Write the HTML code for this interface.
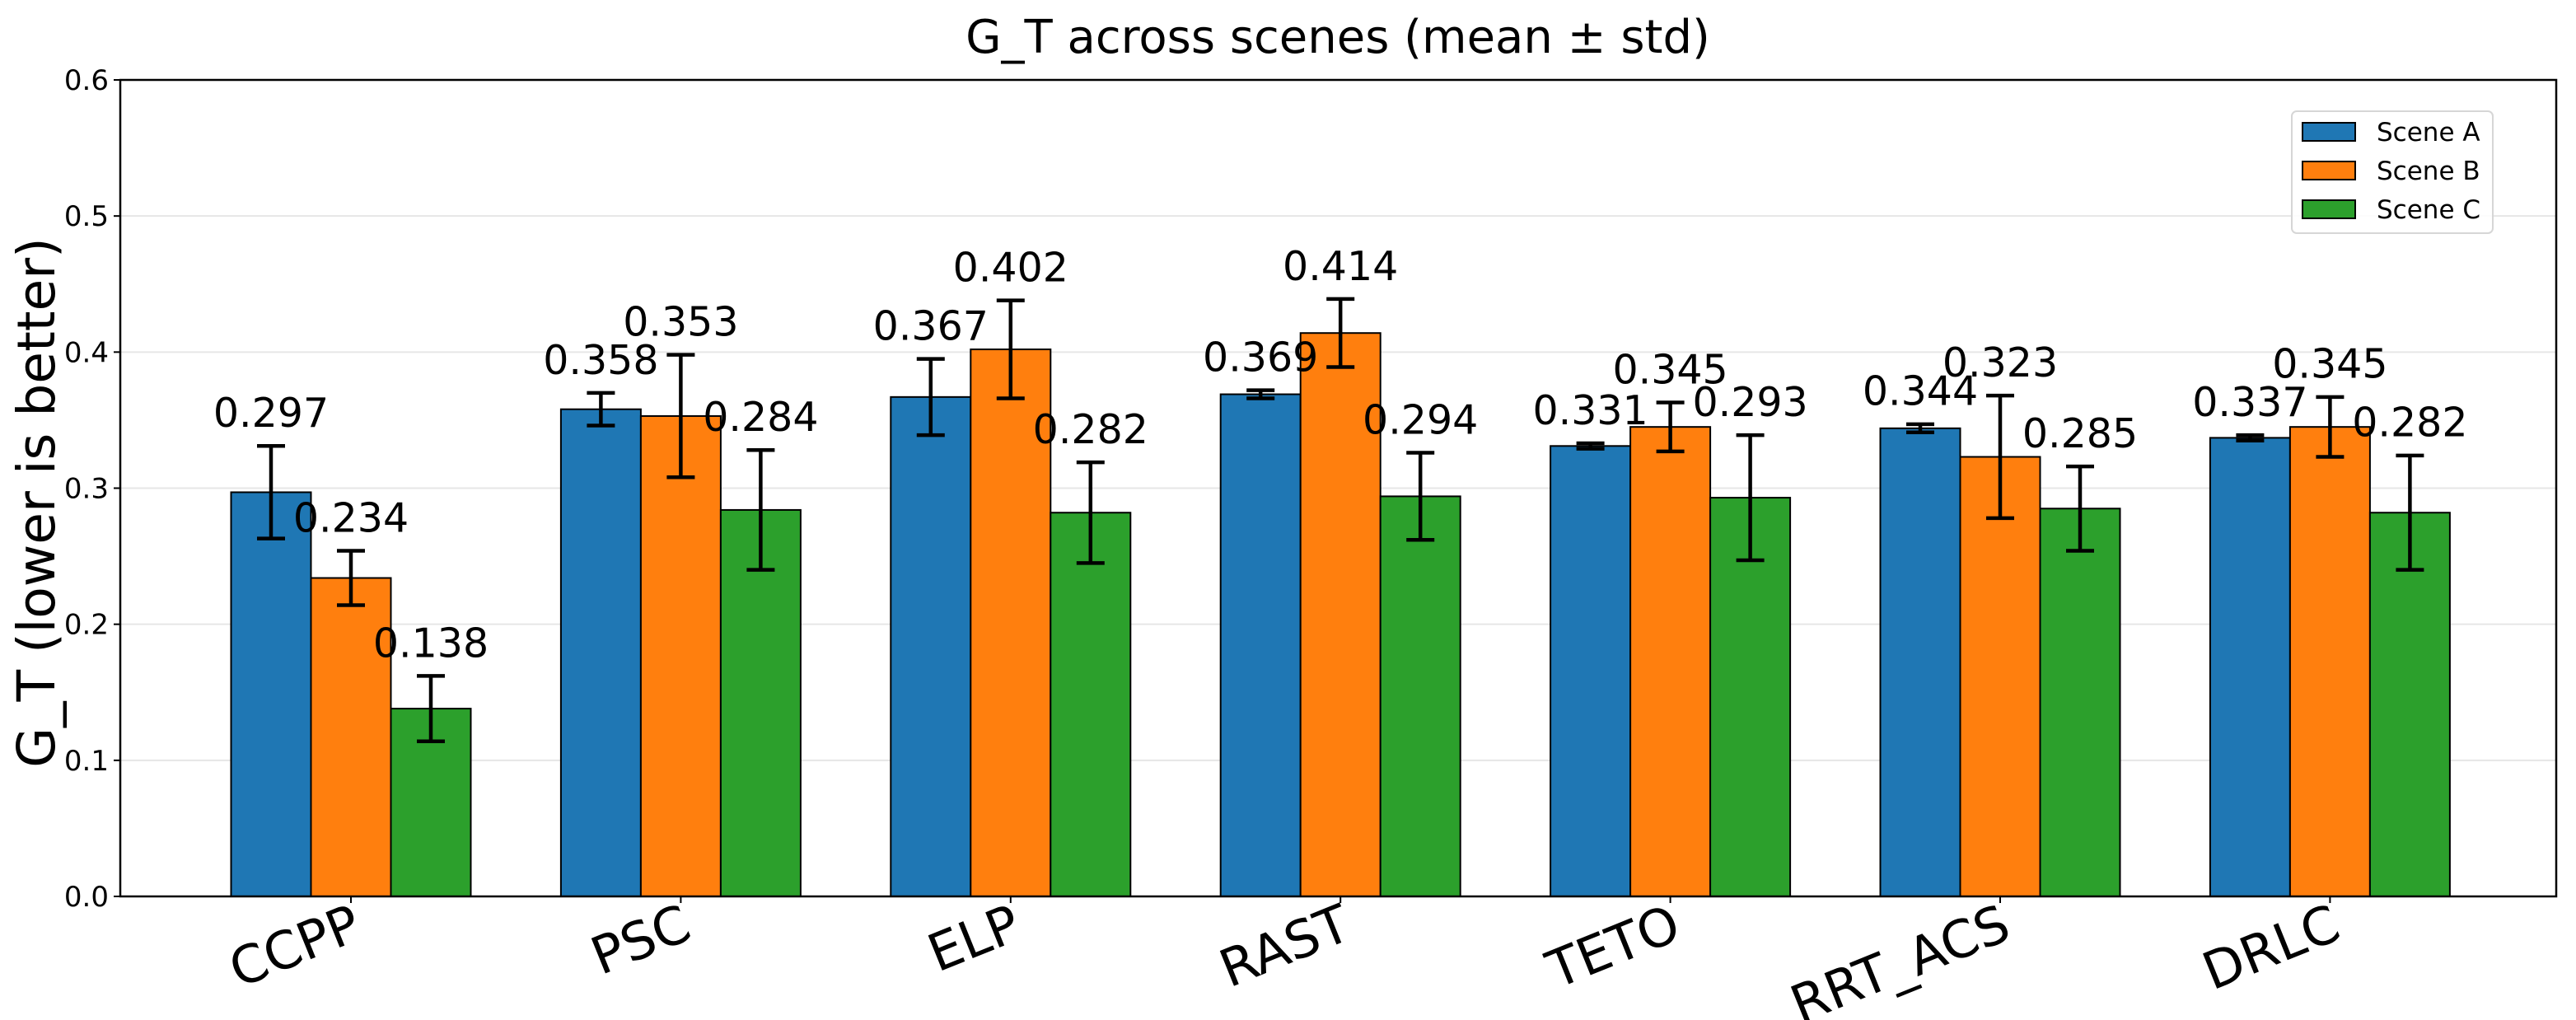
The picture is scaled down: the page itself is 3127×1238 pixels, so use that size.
<!DOCTYPE html>
<html><head><meta charset="utf-8"><style>
html,body{margin:0;padding:0;background:#fff;}
svg{display:block;font-family:"DejaVu Sans","Liberation Sans",sans-serif;}
</style></head><body>
<svg id="chart" width="3127" height="1238" viewBox="0 0 3127 1238">
<rect width="3127" height="1238" fill="#fff"/>
<text x="1624" y="64" font-size="56" text-anchor="middle">G_T across scenes (mean ± std)</text>
<text transform="translate(66,610) rotate(-90)" font-size="63" text-anchor="middle">G_T (lower is better)</text>
<g id="grid"></g><g id="bars"></g><g id="errs"></g><g id="vals"></g><g id="axes"></g>
<g id="legend">
<rect x="2782" y="135" width="244" height="148" rx="6" fill="#fff" fill-opacity="0.85" stroke="#d6d6d6" stroke-width="2"/>
</g>
</svg>
<script>
const categories=["CCPP","PSC","ELP","RAST","TETO","RRT_ACS","DRLC"];
const seriesNames=["Scene A","Scene B","Scene C"];
const sceneA=[0.297,0.358,0.367,0.369,0.331,0.344,0.337];
const sceneB=[0.234,0.353,0.402,0.414,0.345,0.323,0.345];
const sceneC=[0.138,0.284,0.282,0.294,0.293,0.285,0.282];
const stdA=[0.034,0.012,0.028,0.003,0.002,0.003,0.002];
const stdB=[0.020,0.045,0.036,0.025,0.018,0.045,0.022];
const stdC=[0.024,0.044,0.037,0.032,0.046,0.031,0.042];
const yTicks=[0.0,0.1,0.2,0.3,0.4,0.5,0.6];
const yTickLabels=["0.0","0.1","0.2","0.3","0.4","0.5","0.6"];

const colors=["#1f77b4","#ff7f0e","#2ca02c"];
const L=146,R=3103,T=97,B=1088,yMax=0.6;
const xFirst=426,xStep=400.4,barW=97;
const y=v=>B-(v/yMax)*(B-T);
const xc=i=>xFirst+i*xStep;
const NS="http://www.w3.org/2000/svg";
function mk(tag,attrs,parent){const e=document.createElementNS(NS,tag);for(const k in attrs)e.setAttribute(k,attrs[k]);parent.appendChild(e);return e;}
const G=id=>document.getElementById(id);
const vals=[sceneA,sceneB,sceneC],stds=[stdA,stdB,stdC];

yTicks.forEach((t,i)=>{
  if(i>0&&i<yTicks.length-1){const g=mk('line',{x1:L,x2:R,y1:y(t),y2:y(t),stroke:'#e6e6e6','stroke-width':2},G('grid'));
  
  }
  const tk=mk('line',{x1:L-8,x2:L,y1:y(t),y2:y(t),stroke:'#000','stroke-width':2},G('axes'));
  
  
  const tl=mk('text',{x:L-14,y:y(t)+12,'font-size':34,'text-anchor':'end'},G('axes'));
  tl.textContent=yTickLabels[i];
  
  
});

categories.forEach((c,i)=>{
  for(let s=0;s<3;s++){
    const v=vals[s][i],sd=stds[s][i];
    const cx=xc(i)+(s-1)*barW;
    const r=mk('rect',{x:cx-barW/2,y:y(v),width:barW,height:B-y(v),fill:colors[s],stroke:'#000','stroke-width':2},G('bars'));
    
    
    const eg=mk('g',{stroke:'#000','stroke-width':4.5},G('errs'));
    
    
    mk('line',{x1:cx,x2:cx,y1:y(v+sd),y2:y(v-sd)},eg);
    mk('line',{x1:cx-17,x2:cx+17,y1:y(v+sd),y2:y(v+sd)},eg);
    mk('line',{x1:cx-17,x2:cx+17,y1:y(v-sd),y2:y(v-sd)},eg);
    const t=mk('text',{x:cx,y:y(v+sd+0.014),'font-size':49,'text-anchor':'middle'},G('vals'));
    t.textContent=v.toFixed(3);
    
    
  }
  const tk=mk('line',{x1:xc(i),x2:xc(i),y1:B,y2:B+8,stroke:'#000','stroke-width':2},G('axes'));
  
  
  const xl=mk('text',{x:0,y:0,'font-size':63,'text-anchor':'end',transform:`translate(${xc(i)+16},${B+50}) rotate(-22)`},G('axes'));
  xl.textContent=c;
  
  
});
const frame=mk('rect',{x:L,y:T,width:R-L,height:B-T,fill:'none',stroke:'#000','stroke-width':2.5},G('axes'));



seriesNames.forEach((n,s)=>{
  const yy=160+s*47;
  const p=mk('rect',{x:2795,y:yy-11,width:64,height:22,fill:colors[s],stroke:'#000','stroke-width':2},G('legend'));
  
  
  const t=mk('text',{x:2885,y:yy+11,'font-size':31},G('legend'));
  t.textContent=n;
  
  
});
</script>
</body></html>
